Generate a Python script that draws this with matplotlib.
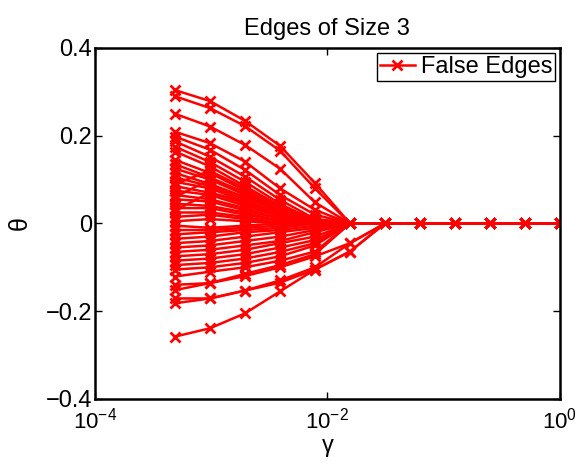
import numpy as np
import matplotlib.pyplot as plt

plt.rcParams['font.family'] = ['Liberation Sans', 'DejaVu Sans']
plt.rcParams['mathtext.fontset'] = 'custom'
plt.rcParams['mathtext.rm'] = 'Liberation Sans'
plt.rcParams['mathtext.it'] = 'Liberation Sans:italic'

# regularisation values: 2^-11 ... 2^0
gamma = [2**-11, 2**-10, 2**-9, 2**-8, 2**-7, 2**-6,
         2**-5, 2**-4, 2**-3, 2**-2, 2**-1, 1.0]

# theta paths of the false edges (one row per edge, values along gamma)
theta = [
    [0.304, 0.279, 0.234, 0.177, 0.092, 0, 0, 0, 0, 0, 0, 0],
    [0.290, 0.263, 0.222, 0.166, 0.080, 0, 0, 0, 0, 0, 0, 0],
    [0.250, 0.221, 0.179, 0.125, 0.048, 0, 0, 0, 0, 0, 0, 0],
    [0.209, 0.183, 0.141, 0.080, 0.031, 0, 0, 0, 0, 0, 0, 0],
    [0.198, 0.168, 0.122, 0.065, 0.020, 0, 0, 0, 0, 0, 0, 0],
    [0.187, 0.152, 0.107, 0.054, 0.010, 0, 0, 0, 0, 0, 0, 0],
    [0.175, 0.140, 0.095, 0.045, 0.005, 0, 0, 0, 0, 0, 0, 0],
    [0.164, 0.130, 0.085, 0.040, 0, 0, 0, 0, 0, 0, 0, 0],
    [0.145, 0.115, 0.075, 0.035, 0, 0, 0, 0, 0, 0, 0, 0],
    [0.135, 0.105, 0.070, 0.030, 0, 0, 0, 0, 0, 0, 0, 0],
    [0.125, 0.100, 0.065, 0.025, 0, 0, 0, 0, 0, 0, 0, 0],
    [0.115, 0.090, 0.060, 0.025, 0, 0, 0, 0, 0, 0, 0, 0],
    [0.105, 0.085, 0.055, 0.020, 0, 0, 0, 0, 0, 0, 0, 0],
    [0.095, 0.080, 0.050, 0.020, 0, 0, 0, 0, 0, 0, 0, 0],
    [0.085, 0.070, 0.045, 0.015, 0, 0, 0, 0, 0, 0, 0, 0],
    [0.075, 0.065, 0.040, 0.015, 0, 0, 0, 0, 0, 0, 0, 0],
    [0.065, 0.055, 0.035, 0.010, 0, 0, 0, 0, 0, 0, 0, 0],
    [0.055, 0.050, 0.030, 0.010, 0, 0, 0, 0, 0, 0, 0, 0],
    [0.045, 0.040, 0.025, 0.005, 0, 0, 0, 0, 0, 0, 0, 0],
    [0.035, 0.035, 0.020, 0.005, 0, 0, 0, 0, 0, 0, 0, 0],
    [0.025, 0.025, 0.015, 0, 0, 0, 0, 0, 0, 0, 0, 0],
    [0.015, 0.020, 0.010, 0, 0, 0, 0, 0, 0, 0, 0, 0],
    [0.005, 0.010, 0.005, 0, 0, 0, 0, 0, 0, 0, 0, 0],
    [0.060, 0.100, 0.070, 0.030, 0, 0, 0, 0, 0, 0, 0, 0],
    [0.090, 0.120, 0.080, 0.040, 0.010, 0, 0, 0, 0, 0, 0, 0],
    [0.030, 0.070, 0.050, 0.020, 0, 0, 0, 0, 0, 0, 0, 0],
    [-0.005, -0.010, -0.005, 0, 0, 0, 0, 0, 0, 0, 0, 0],
    [-0.015, -0.015, -0.010, -0.005, 0, 0, 0, 0, 0, 0, 0, 0],
    [-0.025, -0.020, -0.015, -0.010, 0, 0, 0, 0, 0, 0, 0, 0],
    [-0.035, -0.030, -0.020, -0.015, -0.005, 0, 0, 0, 0, 0, 0, 0],
    [-0.045, -0.040, -0.030, -0.020, -0.010, 0, 0, 0, 0, 0, 0, 0],
    [-0.055, -0.050, -0.040, -0.030, -0.015, 0, 0, 0, 0, 0, 0, 0],
    [-0.065, -0.060, -0.050, -0.040, -0.020, 0, 0, 0, 0, 0, 0, 0],
    [-0.075, -0.070, -0.060, -0.045, -0.030, 0, 0, 0, 0, 0, 0, 0],
    [-0.085, -0.080, -0.070, -0.055, -0.038, 0, 0, 0, 0, 0, 0, 0],
    [-0.095, -0.090, -0.080, -0.065, -0.045, 0, 0, 0, 0, 0, 0, 0],
    [-0.105, -0.100, -0.090, -0.075, -0.050, 0, 0, 0, 0, 0, 0, 0],
    [-0.121, -0.110, -0.100, -0.085, -0.064, 0, 0, 0, 0, 0, 0, 0],
    [-0.140, -0.136, -0.120, -0.100, -0.075, -0.045, 0, 0, 0, 0, 0, 0],
    [-0.152, -0.136, -0.115, -0.095, -0.070, 0, 0, 0, 0, 0, 0, 0],
    [-0.171, -0.171, -0.153, -0.130, -0.100, -0.045, 0, 0, 0, 0, 0, 0],
    [-0.182, -0.171, -0.153, -0.135, -0.105, -0.064, 0, 0, 0, 0, 0, 0],
    [-0.258, -0.239, -0.205, -0.155, -0.105, -0.064, 0, 0, 0, 0, 0, 0],
]

fig = plt.figure(figsize=(5.79, 4.66), dpi=100)
ax = fig.add_axes([0.164, 0.144, 0.803, 0.753])

for i, row in enumerate(theta):
    ax.plot(gamma, row, '-x', color='red', lw=1.8, ms=7, mew=2,
            label='False Edges' if i == 0 else None)

ax.set_xscale('log')
ax.set_xlim(1e-4, 1)
ax.set_ylim(-0.4, 0.4)
ax.set_xticks([1e-4, 1e-2, 1])
ax.xaxis.set_minor_locator(plt.NullLocator())
ax.set_yticks([-0.4, -0.2, 0, 0.2, 0.4])
ax.set_yticklabels(['\u22120.4', '\u22120.2', '0', '0.2', '0.4'])
ax.tick_params(direction='in', top=True, right=True, labelsize=17,
               length=5, width=1, pad=2)
ax.tick_params(axis='x', pad=6, labelsize=16)
for s in ax.spines.values():
    s.set_linewidth(1.8)

ax.set_title('Edges of Size 3', fontsize=17, pad=9)
ax.set_xlabel('\u03b3', fontsize=17, labelpad=1)
ax.set_ylabel('\u03b8', fontsize=18, labelpad=10)

leg = ax.legend(loc='upper right', bbox_to_anchor=(0.99, 0.985),
                fontsize=17, fancybox=False, framealpha=1,
                edgecolor='black', borderaxespad=0,
                handlelength=1.5, handletextpad=0.25, borderpad=0.12)
leg.get_frame().set_linewidth(1)

fig.savefig('out.png', dpi=100)
